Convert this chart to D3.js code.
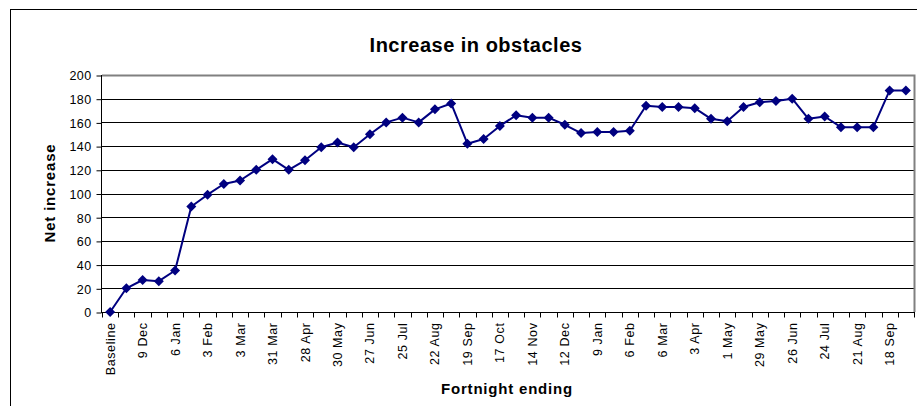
<!DOCTYPE html>
<html>
<head>
<meta charset="utf-8">
<script src="https://cdn.jsdelivr.net/npm/d3@7/dist/d3.min.js"></script>
<style>
  html, body { margin: 0; padding: 0; background: #fff; }
  svg { display: block; font-family: "Liberation Sans", Arial, sans-serif; }
</style>
</head>
<body>
<svg id="chart" width="917" height="406"></svg>
<script>
const titleText = "Increase in obstacles";
const xTitle = "Fortnight ending";
const yTitle = "Net increase";

const categories = [
  "Baseline", "25 Nov", "9 Dec", "23 Dec", "6 Jan", "20 Jan", "3 Feb", "17 Feb", "3 Mar", "17 Mar",
  "31 Mar", "14 Apr", "28 Apr", "16 May", "30 May", "13 Jun", "27 Jun", "11 Jul", "25 Jul", "8 Aug",
  "22 Aug", "5 Sep", "19 Sep", "3 Oct", "17 Oct", "31 Oct", "14 Nov", "28 Nov", "12 Dec", "26 Dec",
  "9 Jan", "23 Jan", "6 Feb", "20 Feb", "6 Mar", "20 Mar", "3 Apr", "17 Apr", "1 May", "15 May",
  "29 May", "12 Jun", "26 Jun", "10 Jul", "24 Jul", "7 Aug", "21 Aug", "4 Sep", "18 Sep", "2 Oct"
];
const values = [
  0, 20, 27, 26, 35, 89, 99, 108, 111, 120,
  129, 120, 128, 139, 143, 139, 150, 160, 164, 160,
  171, 176, 142, 146, 157, 166, 164, 164, 158, 151,
  152, 152, 153, 174, 173, 173, 172, 163, 161, 173,
  177, 178, 180, 163, 165, 156, 156, 156, 187, 187
];
const yTicks = [0, 20, 40, 60, 80, 100, 120, 140, 160, 180, 200];

const svg = d3.select("#chart");
const pL = 102, pR = 914, pT = 75, pB = 312;

const x = d3.scaleBand().domain(categories).range([pL, pR]).paddingInner(0).paddingOuter(0);
const y = d3.scaleLinear().domain([0, 200]).range([pB, pT]);
const cx = d => x(d) + x.bandwidth() / 2;

// outer chart border
svg.append("rect")
  .attr("x", 10.5).attr("y", 9.5)
  .attr("width", 1000).attr("height", 1000)
  .attr("fill", "none").attr("stroke", "#000").attr("stroke-width", 1);

// gridlines
svg.append("g").selectAll("line")
  .data(yTicks.filter(t => t > 0 && t < 200))
  .join("line")
  .attr("x1", pL).attr("x2", pR)
  .attr("y1", d => Math.round(y(d)) + 0.5).attr("y2", d => Math.round(y(d)) + 0.5)
  .attr("stroke", "#000").attr("stroke-width", 1);

// plot area top/right border (grey)
svg.append("path")
  .attr("d", `M${pL},${Math.round(y(200)) + 0.5}H${pR + 0.5}V${pB}`)
  .attr("fill", "none").attr("stroke", "#808080").attr("stroke-width", 2);

// y axis
const yAxis = d3.axisLeft(y).tickValues(yTicks).tickSize(5).tickPadding(5).tickFormat(d3.format("d"));
const gy = svg.append("g").attr("transform", `translate(${pL - 0.5},0.5)`).call(yAxis);
gy.select(".domain").attr("stroke", "#000").attr("d", `M0,${pT - 0.5}V${pB}`);
gy.selectAll(".tick line").attr("stroke", "#000");
gy.selectAll(".tick text")
  .attr("fill", "#000").style("font-size", "12.5px").style("letter-spacing", "0.4px")
  .style("font-family", "'Liberation Sans', Arial, sans-serif").attr("dy", "0.35em");

// x axis
const gx = svg.append("g").attr("transform", `translate(0,${Math.round(pB) + 0.5})`);
gx.append("line").attr("x1", pL - 1).attr("x2", pR + 1).attr("y1", 0).attr("y2", 0)
  .attr("stroke", "#000");
const boundaries = d3.range(categories.length + 1).map(i => x.range()[0] + i * x.step());
gx.selectAll("line.tk").data(boundaries).join("line").attr("class", "tk")
  .attr("x1", d => Math.round(d) + 0.5).attr("x2", d => Math.round(d) + 0.5)
  .attr("y1", 0).attr("y2", 5).attr("stroke", "#000");
gx.selectAll("text.lbl").data(categories.filter((d, i) => i % 2 === 0)).join("text").attr("class", "lbl")
  .attr("transform", d => `translate(${cx(d) + 4.5},${10}) rotate(-90)`)
  .attr("text-anchor", "end")
  .style("font-size", "12.5px").style("letter-spacing", "0.6px")
  .attr("fill", "#000")
  .text(d => d);

// line
svg.append("path")
  .datum(values)
  .attr("fill", "none").attr("stroke", "#000080").attr("stroke-width", 2)
  .attr("stroke-linejoin", "round")
  .attr("d", d3.line().x((d, i) => cx(categories[i])).y(d => y(d)));

// markers (diamonds)
svg.append("g").selectAll("path")
  .data(values)
  .join("path")
  .attr("transform", (d, i) => `translate(${cx(categories[i])},${y(d)})`)
  .attr("d", "M0,-5L5,0L0,5L-5,0Z")
  .attr("fill", "#000080");

// titles
svg.append("text").attr("x", 476).attr("y", 52).attr("text-anchor", "middle")
  .style("font-size", "20px").style("font-weight", "bold").style("letter-spacing", "0.5px")
  .text(titleText);
svg.append("text").attr("x", 507).attr("y", 394).attr("text-anchor", "middle")
  .style("font-size", "15px").style("font-weight", "bold").style("letter-spacing", "0.8px")
  .text(xTitle);
svg.append("text").attr("transform", "translate(55,193) rotate(-90)").attr("text-anchor", "middle")
  .style("font-size", "15px").style("font-weight", "bold").style("letter-spacing", "0.8px")
  .text(yTitle);
</script>
</body>
</html>
